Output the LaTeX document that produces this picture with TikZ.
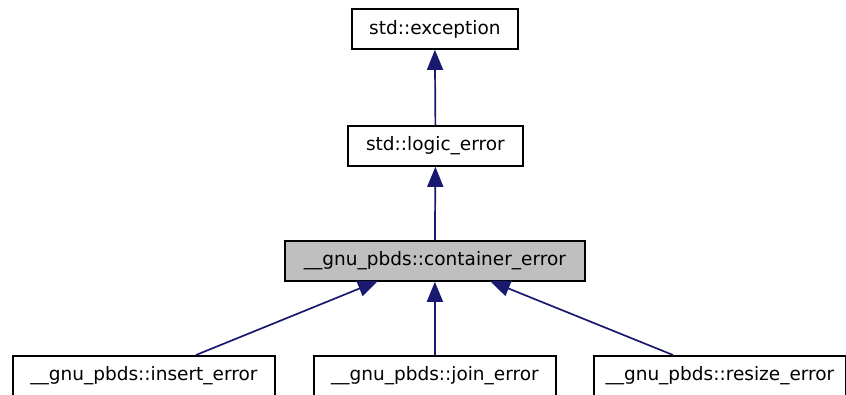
\documentclass[tikz,border=0pt]{standalone}
\usepackage{fontspec}
\setmainfont{DejaVu Sans}
\usetikzlibrary{arrows.meta}
\definecolor{edgeblue}{HTML}{191970}
\definecolor{hlgray}{HTML}{BFBFBF}
\begin{document}
\begin{tikzpicture}[x=1pt,y=-1pt,
  cls/.style={draw=black,line width=1.8pt,fill=white,minimum height=40pt,inner sep=0pt,
    font=\fontsize{18.5}{21}\selectfont,anchor=north west},
  inh/.style={draw=edgeblue,line width=1.7pt,{Triangle[length=20pt,width=16pt,fill=edgeblue]}-}
]
\useasboundingbox (0,0) rectangle (846,394);
\node[cls,minimum width=166pt] (exc) at (351,8) {std::exception};
\node[cls,minimum width=175pt] (logic) at (347,125) {std::logic\_error};
\node[cls,minimum width=300pt,fill=hlgray] (cont) at (284,240) {\_\_gnu\_pbds::container\_error};
\node[cls,minimum width=262pt] (ins) at (12,355) {\_\_gnu\_pbds::insert\_error};
\node[cls,minimum width=242pt] (join) at (313,355) {\_\_gnu\_pbds::join\_error};
\node[cls,minimum width=252pt] (res) at (593,355) {\_\_gnu\_pbds::resize\_error};
\coordinate (insT) at (196,355);
\coordinate (resT) at (673,355);
\coordinate (contL) at (378,281);
\coordinate (contR) at (490,281);
\draw[inh] (exc.south) -- (logic.north);
\draw[inh] (logic.south) -- (cont.north);
\draw[inh] (cont.south) -- (join.north);
\draw[inh] (contL) -- (insT);
\draw[inh] (contR) -- (resT);
\end{tikzpicture}
\end{document}
